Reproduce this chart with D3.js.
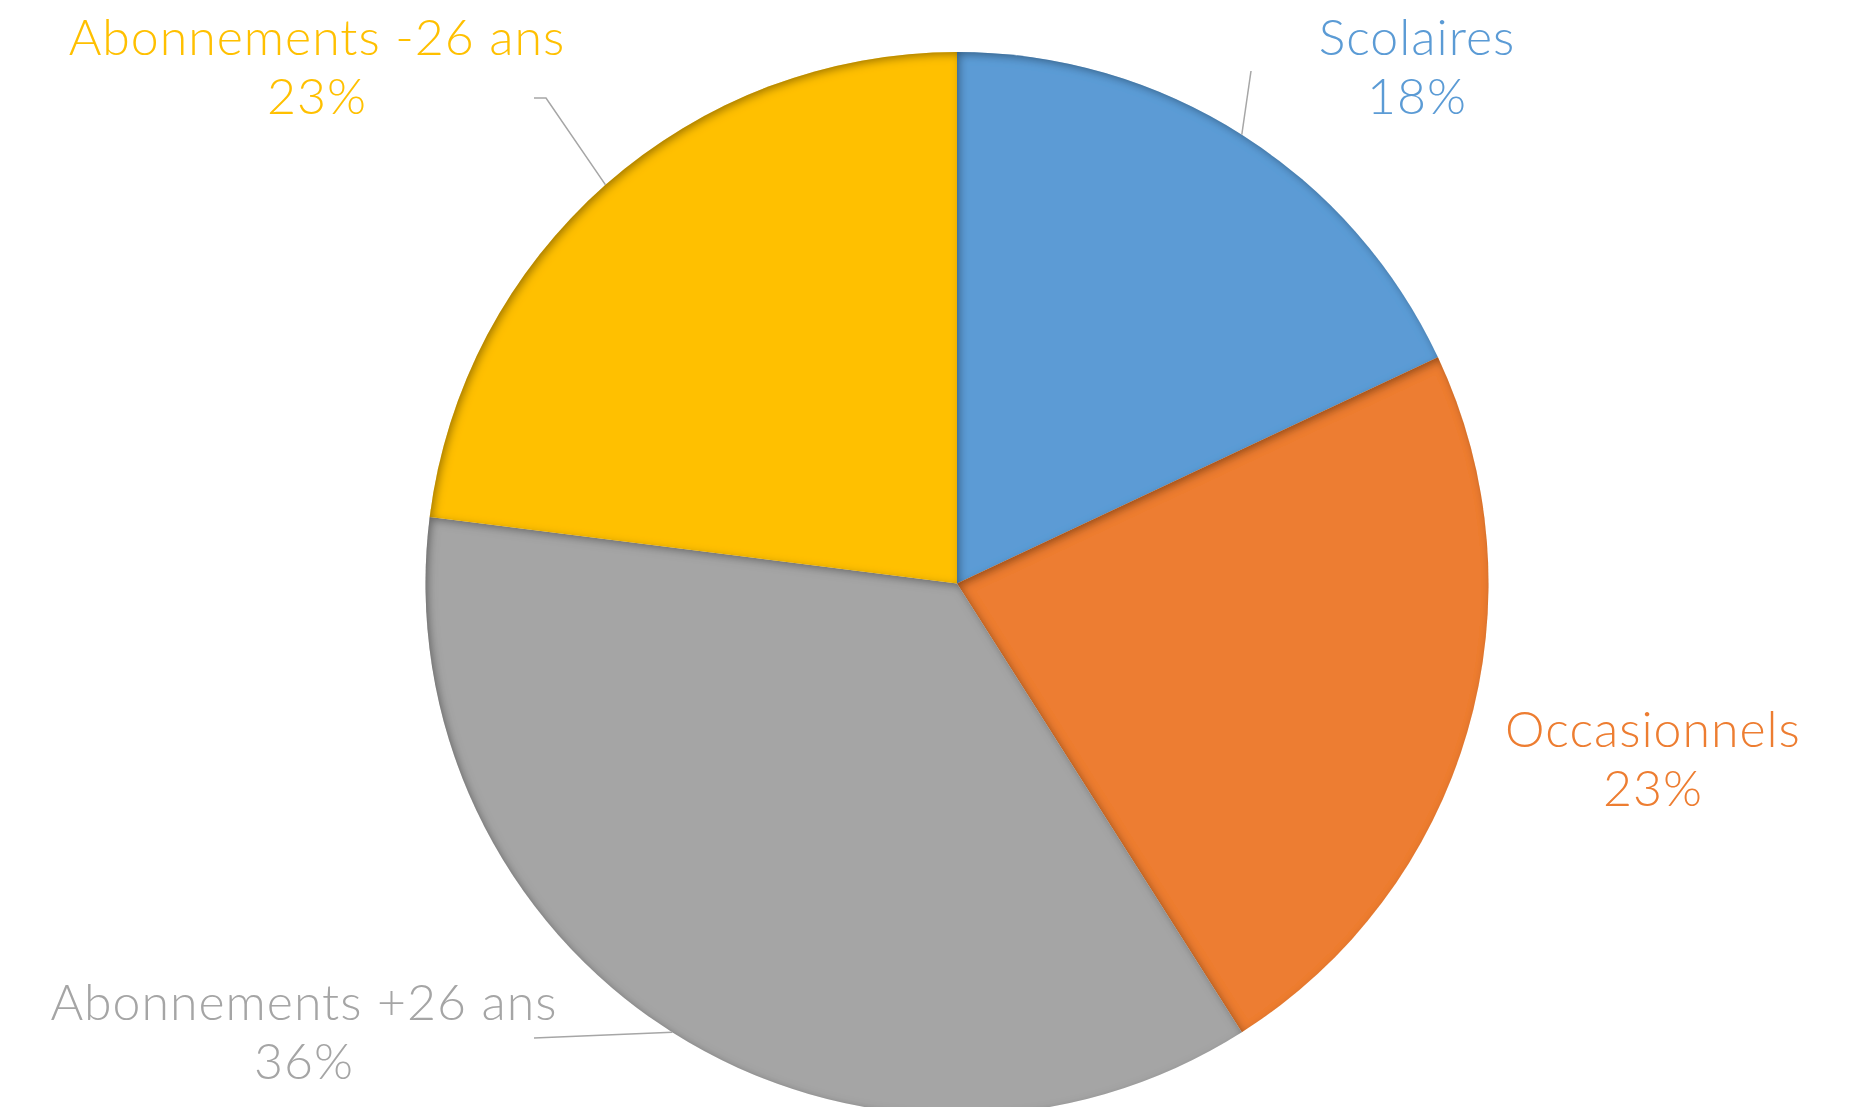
<!DOCTYPE html>
<html>
<head>
<meta charset="utf-8">
<script src="https://cdn.jsdelivr.net/npm/d3@7"></script>
<style>
  body { margin: 0; background: #fff; }
  svg { display: block; }
  text { font-family: Lato, "Open Sans", sans-serif; font-weight: 300; letter-spacing: 1px; }
</style>
</head>
<body>
<script>
// data
var categories = ["Scolaires", "Occasionnels", "Abonnements +26 ans", "Abonnements -26 ans"];
var values = [18, 23, 36, 23];
var colors = ["#5B9BD5", "#ED7D31", "#A5A5A5", "#FFC000"];

// layout
var width = 1860, height = 1107;
var cx = 957, cy = 583.5, radius = 531.5;
var fontSize = 50, lineGap = 59;
// label anchor (centre of text, baseline of first line) and leader start, per slice
var labelPos = [
  {x: 1417, y: 55,   lead: [[1251, 71]]},
  {x: 1653, y: 747,  lead: null},
  {x: 304,  y: 1020, lead: [[534, 1038]]},
  {x: 317,  y: 55,   lead: [[534, 98], [546, 98]]}
];

var dataset = categories.map(function(c, i) {
  return {name: c, value: values[i], color: colors[i], label: labelPos[i]};
});

var svg = d3.select("body").append("svg")
  .attr("width", width)
  .attr("height", height);

//inner shadow, light from top left
var defs = svg.append("defs");
var f = defs.append("filter").attr("id", "inset")
  .attr("x", "-10%").attr("y", "-10%").attr("width", "120%").attr("height", "120%");
f.append("feComponentTransfer").attr("in", "SourceAlpha").attr("result", "inv")
  .append("feFuncA").attr("type", "table").attr("tableValues", "1 0");
f.append("feGaussianBlur").attr("in", "inv").attr("stdDeviation", 4).attr("result", "blur");
f.append("feOffset").attr("in", "blur").attr("dx", 3).attr("dy", 3).attr("result", "off");
f.append("feFlood").attr("flood-color", "#000").attr("flood-opacity", 0.65).attr("result", "col");
f.append("feComposite").attr("in", "col").attr("in2", "off").attr("operator", "in").attr("result", "sh");
f.append("feComposite").attr("in", "sh").attr("in2", "SourceAlpha").attr("operator", "in").attr("result", "insh");
var m = f.append("feMerge");
m.append("feMergeNode").attr("in", "SourceGraphic");
m.append("feMergeNode").attr("in", "insh");

var pie = d3.pie()
  .sort(null)
  .value(function(d) { return d.value; });

var path = d3.arc()
  .outerRadius(radius)
  .innerRadius(0);

var g = svg.append("g").attr("transform", "translate(" + cx + "," + cy + ")");

var arcs = pie(dataset);

g.selectAll(".slice")
  .data(arcs)
  .enter().append("path")
  .attr("class", "slice")
  .attr("d", path)
  .attr("fill", function(d) { return d.data.color; })
  .attr("filter", "url(#inset)");

//leader lines go to the middle of the slice on the rim
function rim(d) {
  var a = (d.startAngle + d.endAngle) / 2;
  return [cx + radius * Math.sin(a), cy - radius * Math.cos(a)];
}

svg.selectAll(".leader")
  .data(arcs.filter(function(d) { return d.data.label.lead; }))
  .enter().append("polyline")
  .attr("class", "leader")
  .attr("fill", "none")
  .attr("stroke", "#A6A6A6")
  .attr("stroke-width", 1.5)
  .attr("points", function(d) {
    return d.data.label.lead.concat([rim(d)]).map(function(p) { return p.join(","); }).join(" ");
  });

var labels = svg.selectAll(".label")
  .data(arcs)
  .enter().append("text")
  .attr("class", "label")
  .attr("text-anchor", "middle")
  .attr("font-size", fontSize)
  .attr("fill", function(d) { return d.data.color; });

labels.append("tspan")
  .attr("x", function(d) { return d.data.label.x; })
  .attr("y", function(d) { return d.data.label.y; })
  .text(function(d) { return d.data.name; });

labels.append("tspan")
  .attr("x", function(d) { return d.data.label.x; })
  .attr("y", function(d) { return d.data.label.y + lineGap; })
  .text(function(d) { return d.data.value + "%"; });
</script>
</body>
</html>
